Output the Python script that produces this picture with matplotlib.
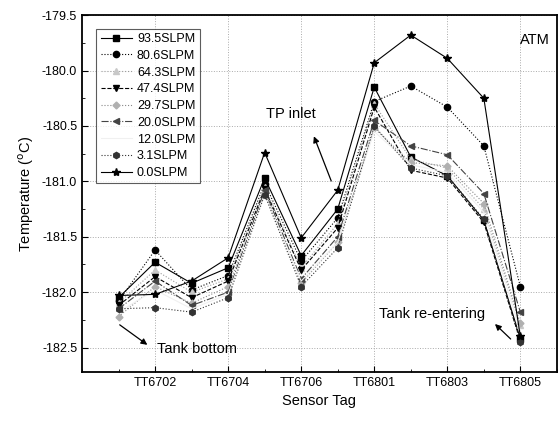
import matplotlib.pyplot as plt
from matplotlib.ticker import MultipleLocator

plt.rcParams['font.family'] = ['Liberation Sans', 'DejaVu Sans']

# Sensor tags along the pipe (x positions 1..12)
sensor_tags = ["TT6701", "TT6702", "TT6703", "TT6704", "TT6705", "TT6706",
               "TT6707", "TT6801", "TT6802", "TT6803", "TT6804", "TT6805"]
tick_tags = ["TT6702", "TT6704", "TT6706", "TT6801", "TT6803", "TT6805"]

flow_labels = ["93.5SLPM", "80.6SLPM", "64.3SLPM", "47.4SLPM", "29.7SLPM",
               "20.0SLPM", "12.0SLPM", "3.1SLPM", "0.0SLPM"]

t_93_5 = [-182.05, -181.73, -181.92, -181.78, -180.97, -181.67, -181.25, -180.15, -180.78, -180.95, -181.35, -182.42]
t_80_6 = [-182.08, -181.62, -181.98, -181.85, -181.02, -181.72, -181.33, -180.28, -180.14, -180.33, -180.68, -181.95]
t_64_3 = [-182.10, -181.80, -182.00, -181.88, -181.05, -181.78, -181.38, -180.30, -180.80, -180.88, -181.25, -182.30]
t_47_4 = [-182.12, -181.86, -182.05, -181.90, -181.07, -181.80, -181.42, -180.33, -180.90, -180.97, -181.37, -182.44]
t_29_7 = [-182.22, -181.95, -182.10, -181.95, -181.10, -181.92, -181.55, -180.52, -180.83, -180.86, -181.20, -182.28]
t_20_0 = [-182.15, -181.90, -182.12, -182.00, -181.08, -181.88, -181.50, -180.45, -180.68, -180.76, -181.11, -182.18]
t_12_0 = [-182.18, -181.98, -182.15, -182.02, -181.12, -181.90, -181.55, -180.55, -180.85, -180.92, -181.28, -182.35]
t_3_1 = [-182.15, -182.14, -182.18, -182.05, -181.12, -181.95, -181.60, -180.50, -180.88, -180.95, -181.34, -182.45]
t_0_0 = [-182.03, -182.02, -181.90, -181.69, -180.74, -181.51, -181.08, -179.93, -179.68, -179.89, -180.25, -182.40]

series = [t_93_5, t_80_6, t_64_3, t_47_4, t_29_7, t_20_0, t_12_0, t_3_1, t_0_0]

styles = [
    dict(color="black", ls="-", marker="s", mfc="black"),
    dict(color="black", ls=":", marker="o", mfc="black"),
    dict(color="#9a9a9a", ls=":", marker="^", mfc="#c8c8c8"),
    dict(color="black", ls="--", marker="v", mfc="black"),
    dict(color="#888888", ls=":", marker="D", mfc="#b0b0b0", ms=3.5),
    dict(color="#444444", ls="-.", marker="<", mfc="#444444"),
    dict(color="#f0f0f0", ls="-", marker="None"),
    dict(color="#333333", ls=":", marker="h", mfc="#333333"),
    dict(color="black", ls="-", marker="*", mfc="black", ms=6),
]

x = list(range(1, len(sensor_tags) + 1))

fig = plt.figure(figsize=(5.58, 4.32), dpi=100)
ax = fig.add_axes([0.147, 0.139, 0.851, 0.826])

for vals, lab, st in zip(series, flow_labels, styles):
    ms = st.pop("ms", 4.5)
    ax.plot(x, vals, label=lab, lw=0.8, ms=ms, mec=st["mfc"] if "mfc" in st else st["color"], **st)

ax.set_xlim(0, 13)
ax.set_ylim(-182.72, -179.5)
ax.set_xticks([2, 4, 6, 8, 10, 12])
ax.set_xticklabels(tick_tags)
ax.xaxis.set_minor_locator(MultipleLocator(1))
ax.yaxis.set_major_locator(MultipleLocator(0.5))
ax.yaxis.set_minor_locator(MultipleLocator(0.25))
ax.yaxis.set_major_formatter(plt.FuncFormatter(lambda v, p: f"{v:.1f}"))
ax.tick_params(which="both", direction="in", labelsize=9)
ax.tick_params(which="major", length=4)
ax.tick_params(which="minor", length=2.5)
for sp in ax.spines.values():
    sp.set_linewidth(1.3)
ax.grid(True, which="major", ls=":", color="#aaaaaa", lw=0.7)

ax.set_xlabel("Sensor Tag", fontsize=10.5)
ax.set_ylabel("Temperature ($^{\\mathrm{o}}$C)", fontsize=10.5)

leg = ax.legend(loc="upper left", bbox_to_anchor=(0.03, 0.962), fontsize=9,
                frameon=True, fancybox=False, handlelength=2.5, handletextpad=0.4,
                labelspacing=0.38, borderpad=0.35, borderaxespad=0)
leg.get_frame().set_edgecolor("#333333")
leg.get_frame().set_linewidth(0.8)

ax.text(0.985, 0.95, "ATM", transform=ax.transAxes, ha="right", va="top", fontsize=10.5)

ax.text(5.05, -180.39, "TP inlet", fontsize=10.5, va="center")
ax.annotate("", xy=(6.32, -180.57), xytext=(6.85, -181.02),
            arrowprops=dict(arrowstyle="-|>", color="black", lw=0.9, mutation_scale=9))

ax.text(2.05, -182.51, "Tank bottom", fontsize=10.5, va="center")
ax.annotate("", xy=(1.85, -182.49), xytext=(0.97, -182.28),
            arrowprops=dict(arrowstyle="-|>", color="black", lw=0.9, mutation_scale=9))

ax.text(11.03, -182.2, "Tank re-entering", fontsize=10.5, va="center", ha="right")
ax.annotate("", xy=(11.25, -182.27), xytext=(11.79, -182.44),
            arrowprops=dict(arrowstyle="-|>", color="black", lw=0.9, mutation_scale=9))

fig.savefig("out.png", dpi=100)
